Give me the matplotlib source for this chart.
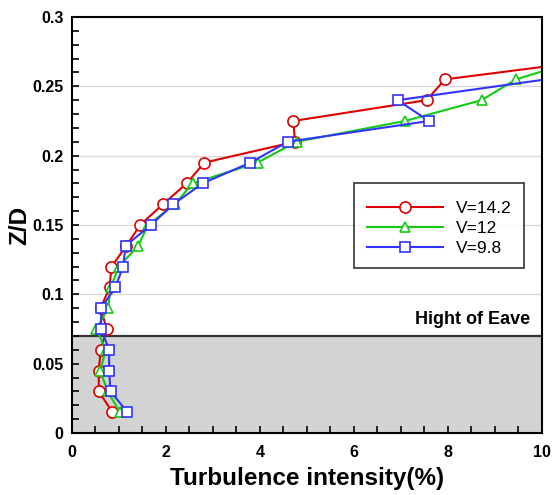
import numpy as np
import matplotlib.pyplot as plt
from matplotlib.ticker import MultipleLocator

plt.rcParams['font.family'] = ['Liberation Sans', 'DejaVu Sans']

# Z/D levels
z = [0.015, 0.03, 0.045, 0.06, 0.075, 0.09, 0.105, 0.12, 0.135, 0.15,
     0.165, 0.18, 0.195, 0.21, 0.225, 0.24, 0.255, 0.27]

# turbulence intensity (%)
ti_142 = [0.86, 0.57, 0.57, 0.61, 0.74, 0.61, 0.8, 0.84, 1.16, 1.45,
          1.94, 2.44, 2.82, 4.75, 4.71, 7.55, 7.94, 11.4]
ti_12 = [1.02, 0.76, 0.6, 0.72, 0.52, 0.77, 0.82, 1.0, 1.41, 1.62,
         2.19, 2.57, 3.95, 4.78, 7.09, 8.72, 9.45, 10.9]
z_98 = [0.015, 0.03, 0.045, 0.06, 0.075, 0.09, 0.105, 0.12, 0.135, 0.15,
        0.165, 0.18, 0.195, 0.21, 0.225, 0.24, 0.256]
ti_98 = [1.18, 0.82, 0.79, 0.79, 0.62, 0.62, 0.92, 1.09, 1.14, 1.68,
         2.16, 2.78, 3.80, 4.59, 7.60, 6.93, 10.3]

eave = 0.07

fig = plt.figure(figsize=(5.53, 4.95), dpi=100)
ax = fig.add_axes([0.1302, 0.1253, 0.8494, 0.8404])

ax.axhspan(0, eave, color='#d3d3d3', zorder=0)
ax.axhline(eave, color='#333333', lw=1.6, zorder=1)
for g in np.arange(0.05, 0.3, 0.05):
    if abs(g - eave) > 1e-6:
        ax.axhline(g, color='#d8d8d8', lw=0.9, zorder=0.5)

ax.plot(ti_142, z, '-o', color='#dd0000', lw=1.5, ms=8, mfc='white',
        mew=1.2, label='V=14.2', zorder=3)
ax.plot(ti_12, z, '-^', color='#11cc11', lw=1.5, ms=7.5, mfc='white',
        mew=1.2, label='V=12', zorder=3)
ax.plot(ti_98, z_98, '-s', color='#3333ff', lw=1.5, ms=6.5, mfc='white',
        mew=1.2, label='V=9.8', zorder=4)

ax.set_xlim(0, 10)
ax.set_ylim(0, 0.3)
ax.xaxis.set_minor_locator(MultipleLocator(0.5))
ax.yaxis.set_minor_locator(MultipleLocator(0.01))
ax.set_xticks([0, 2, 4, 6, 8, 10])
ax.set_xticklabels(['0', '2', '4', '6', '8', '10'])
ax.set_yticks([0, 0.05, 0.1, 0.15, 0.2, 0.25, 0.3])
ax.set_yticklabels(['0', '0.05', '0.1', '0.15', '0.2', '0.25', '0.3'])
ax.tick_params(which='both', direction='in', length=5, width=1.2,
               top=False, right=False, labelsize=11.5)
ax.tick_params(axis='x', which='both', pad=8.5)
ax.tick_params(axis='y', which='both', pad=6)
for lab in ax.get_xticklabels() + ax.get_yticklabels():
    lab.set_fontweight('bold')
for s in ax.spines.values():
    s.set_linewidth(1.5)
    s.set_zorder(5)

ax.set_xlabel('Turbulence intensity(%)', fontsize=17.5, fontweight='bold', labelpad=5)
ax.set_ylabel('Z/D', fontsize=17.5, fontweight='bold', labelpad=1)

ax.text(9.75, 0.0815, 'Hight of Eave', ha='right', va='center',
        fontsize=13, fontweight='bold')

# tiny blank title just to push the entries down a bit inside the box
leg = ax.legend(loc='upper right', bbox_to_anchor=(0.962, 0.601), fontsize=12.5,
                frameon=True, fancybox=False, edgecolor='black',
                handlelength=4.4, borderpad=0.7, labelspacing=0.28,
                handletextpad=0.75, borderaxespad=0,
                title=' ', title_fontsize=1)
leg.get_frame().set_linewidth(1.2)

fig.savefig('out.png', dpi=100)
